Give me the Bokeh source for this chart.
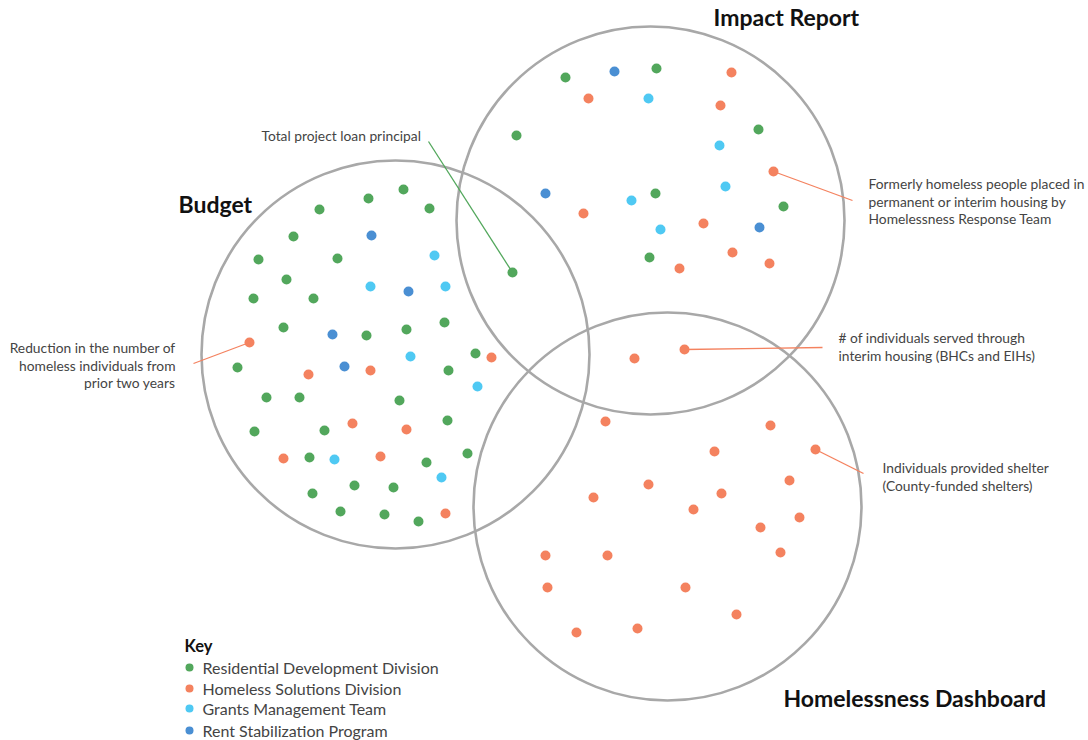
from bokeh.plotting import figure
from bokeh.models import Range1d, ColumnDataSource
from bokeh.core.properties import value
from bokeh.embed import file_html
from bokeh.resources import INLINE

# ---------------- data ----------------
categories = ["Residential Development Division", "Homeless Solutions Division",
              "Grants Management Team", "Rent Stabilization Program"]
cat_colors = ["#52a75c", "#f4825f", "#4fc9f3", "#4a8fd3"]

set_names = ["Budget", "Impact Report", "Homelessness Dashboard"]
set_cx = [395, 650, 667]
set_cy = [354, 220, 506]
set_r = [194, 194, 194]

# dots: (x, y, category index)
budget_x = [403, 368, 319, 429, 293, 371, 258, 337, 434, 286, 370, 408, 445, 253, 313,
            283, 332, 366, 406, 444, 249, 475, 491, 410, 237, 308, 344, 370, 448, 477,
            266, 299, 399, 254, 324, 352, 406, 447, 283, 309, 334, 380, 426, 467, 441,
            312, 354, 393, 340, 384, 418, 445]
budget_y = [189, 198, 209, 208, 236, 235, 259, 258, 255, 279, 286, 291, 286, 298, 298,
            327, 334, 335, 329, 322, 342, 353, 357, 356, 367, 374, 366, 370, 370, 386,
            397, 397, 400, 431, 430, 423, 429, 420, 458, 457, 459, 456, 462, 453, 477,
            493, 485, 487, 511, 514, 521, 513]
budget_c = [0, 0, 0, 0, 0, 3, 0, 0, 2, 0, 2, 3, 2, 0, 0,
            0, 3, 0, 0, 0, 1, 0, 1, 2, 0, 1, 3, 1, 0, 2,
            0, 0, 0, 0, 0, 1, 1, 0, 1, 0, 2, 1, 0, 0, 2,
            0, 0, 0, 0, 0, 0, 1]

overlap_x = [512, 634, 684]
overlap_y = [272, 358, 349]
overlap_c = [0, 1, 1]

impact_x = [565, 614, 656, 731, 588, 648, 720, 516, 758, 719, 773, 545, 631, 655, 725,
            583, 783, 660, 703, 759, 649, 679, 732, 769]
impact_y = [77, 71, 68, 72, 98, 98, 105, 135, 129, 145, 171, 193, 200, 193, 186,
            213, 206, 229, 223, 227, 257, 268, 252, 263]
impact_c = [0, 3, 0, 1, 1, 2, 1, 0, 0, 2, 1, 3, 2, 0, 2,
            1, 0, 2, 1, 3, 0, 1, 1, 1]

dash_x = [605, 770, 714, 815, 648, 789, 593, 721, 693, 799, 760, 545, 607, 780, 547,
          685, 736, 576, 637]
dash_y = [421, 425, 451, 449, 484, 480, 497, 493, 509, 517, 527, 555, 555, 552, 587,
          587, 614, 632, 628]
dash_c = [1] * 19

# annotations
ann_text = [
    ["Total project loan principal"],
    ["Reduction in the number of", "homeless individuals from", "prior two years"],
    ["Formerly homeless people placed in", "permanent or interim housing by",
     "Homelessness Response Team"],
    ["# of individuals served through", "interim housing (BHCs and EIHs)"],
    ["Individuals provided shelter", "(County-funded shelters)"],
]
ann_tx = [261, 175, 868, 838, 882]
ann_ty = [135, 347, 183, 337, 467]
ann_align = ["left", "right", "left", "left", "left"]
ann_x0 = [428, 193, 852, 822, 863]
ann_y0 = [141, 363, 200, 347, 473]
ann_x1 = [512, 249, 773, 684, 815]
ann_y1 = [272, 342, 171, 349, 449]
ann_c = [0, 1, 1, 1, 1]

FONT = value("Lato")

p = figure(width=1088, height=740, output_backend="svg", toolbar_location=None,
           x_range=Range1d(0, 1088), y_range=Range1d(740, 0),
           min_border=0, x_axis_location=None, y_axis_location=None,
           outline_line_color=None, background_fill_color="white")
p.grid.visible = False

# circles
p.circle(x=set_cx, y=set_cy, radius=set_r, fill_color=None,
         line_color="#a8a8a8", line_width=2.6)

# leader lines
p.segment(x0=ann_x0, y0=ann_y0, x1=ann_x1, y1=ann_y1,
          line_color=[cat_colors[c] for c in ann_c], line_width=1.3)

# dots
all_x = budget_x + overlap_x + impact_x + dash_x
all_y = budget_y + overlap_y + impact_y + dash_y
all_c = budget_c + overlap_c + impact_c + dash_c
src = ColumnDataSource(dict(x=all_x, y=all_y, color=[cat_colors[c] for c in all_c]))
p.scatter("x", "y", source=src, size=10, fill_color="color", line_color="color",
          line_width=0)

# set titles
title_x = [178, 713, 783]
title_y = [203, 16, 697]
p.text(x=title_x, y=title_y, text=set_names, text_font=FONT, text_font_style="bold",
       text_font_size="23px", text_color="#111111", text_baseline="middle",
       text_align="left")

# annotation texts
for lines, tx, ty, al in zip(ann_text, ann_tx, ann_ty, ann_align):
    p.text(x=[tx] * len(lines), y=[ty + i * 17.5 for i in range(len(lines))], text=lines,
           text_font=FONT, text_font_size="13.8px", text_color="#444444",
           text_baseline="middle", text_align=al)

# key
p.text(x=[184], y=[645], text=["Key"], text_font=FONT, text_font_style="bold",
       text_font_size="16.5px", text_color="#111111", text_baseline="middle")
key_y = [667, 688, 708, 730]
p.scatter(x=[189] * 4, y=key_y, size=8, color=cat_colors, line_width=0)
p.text(x=[202] * 4, y=key_y, text=categories, text_font=FONT, text_font_size="16px",
       text_color="#444444", text_baseline="middle")

open("out.html", "w").write(file_html(p, INLINE))
